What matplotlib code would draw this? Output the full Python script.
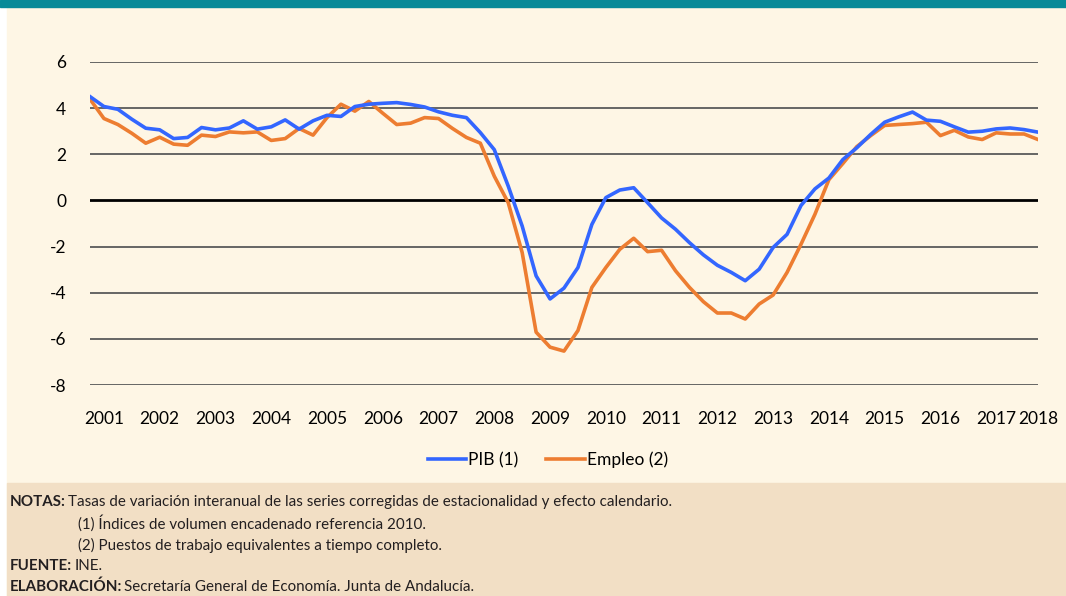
import numpy as np
import matplotlib
matplotlib.use("Agg")
import matplotlib.pyplot as plt
from matplotlib.patches import Rectangle

# quarterly series, 2001Q1 .. 2018Q1
pib = [4.50, 4.07, 3.95, 3.52, 3.13, 3.06, 2.68, 2.73, 3.16, 3.06,
       3.14, 3.45, 3.09, 3.19, 3.49, 3.09, 3.45, 3.69, 3.64, 4.07,
       4.17, 4.21, 4.24, 4.16, 4.05, 3.84, 3.69, 3.59, 2.94, 2.20,
       0.62, -1.11, -3.27, -4.27, -3.80, -2.91, -1.04, 0.12, 0.45, 0.55,
       -0.10, -0.76, -1.25, -1.83, -2.36, -2.81, -3.12, -3.48, -2.98, -2.04,
       -1.47, -0.22, 0.50, 0.97, 1.77, 2.28, 2.86, 3.39, 3.62, 3.83,
       3.48, 3.43, 3.19, 2.96, 3.00, 3.10, 3.14, 3.07, 2.96]
empleo = [4.39, 3.55, 3.29, 2.91, 2.48, 2.74, 2.44, 2.39, 2.83, 2.77,
          2.97, 2.93, 2.97, 2.60, 2.68, 3.12, 2.83, 3.59, 4.17, 3.87,
          4.29, 3.78, 3.29, 3.35, 3.59, 3.55, 3.12, 2.73, 2.48, 1.05,
          -0.10, -2.26, -5.71, -6.36, -6.53, -5.64, -3.77, -2.91, -2.12, -1.64,
          -2.22, -2.16, -3.05, -3.77, -4.39, -4.88, -4.88, -5.14, -4.49, -4.10,
          -3.12, -1.90, -0.60, 0.90, 1.60, 2.33, 2.81, 3.25, 3.29, 3.33,
          3.39, 2.81, 3.04, 2.75, 2.64, 2.93, 2.88, 2.88, 2.64]
years = [str(y) for y in range(2001, 2019)]
yticks = [6, 4, 2, 0, -2, -4, -6, -8]

plt.rcParams["font.family"] = ["Lato", "DejaVu Sans"]

W, H = 1066, 596
cream = "#FEF6E5"
tan = "#F2DFC5"
teal = "#078A98"
blue = "#3366FF"
orange = "#ED7D31"

fig = plt.figure(figsize=(W / 100, H / 100), dpi=100)
fig.patch.set_facecolor("white")
# backgrounds
fig.patches.append(Rectangle((7 / W, 0), 1, 1, transform=fig.transFigure, color=cream, zorder=-3))
fig.patches.append(Rectangle((7 / W, 0), 1, (H - 483) / H, transform=fig.transFigure, color=tan, zorder=-2))
fig.patches.append(Rectangle((0, 1 - 7 / H), 1, 7 / H, transform=fig.transFigure, color=teal, zorder=-1))

ax = fig.add_axes([90 / W, 1 - 385 / H, (1038 - 90) / W, (385 - 62) / H])
ax.set_facecolor("none")
x = np.arange(len(pib))
for v in yticks:
    if v == 0:
        ax.axhline(v, color="black", lw=2.0, zorder=1)
    else:
        ax.axhline(v, color="#5a5a5a", lw=1.3, zorder=1)
ax.plot(x, pib, color=blue, lw=2.6, label="PIB (1)", zorder=3)
ax.plot(x, empleo, color=orange, lw=2.6, label="Empleo (2)", zorder=2)

ax.set_xlim(0, len(pib) - 1)
ax.set_ylim(-8, 6)
ax.set_yticks(yticks)
ax.set_yticklabels([str(v) for v in yticks])
pos = [1 + 4 * i for i in range(len(years) - 1)] + [len(pib) - 1]
ax.set_xticks(pos)
ax.set_xticklabels(years)
ax.tick_params(axis="both", length=0, labelsize=12.5, colors="black")
ax.tick_params(axis="x", pad=19)
ax.tick_params(axis="y", pad=17)
for s in ax.spines.values():
    s.set_visible(False)

fig.legend(loc="center", bbox_to_anchor=(548 / W, 1 - 460 / H), ncol=2,
           frameon=False, fontsize=12.5, handlelength=2.2, handletextpad=0.15,
           columnspacing=1.6)

fs = 10.9
lines = [
    (10, 502, "NOTAS:", "Tasas de variación interanual de las series corregidas de estacionalidad y efecto calendario."),
    (78, 523, "", "(1) Índices de volumen encadenado referencia 2010."),
    (78, 545, "", "(2) Puestos de trabajo equivalentes a tiempo completo."),
    (10, 566, "FUENTE:", "INE."),
    (10, 587, "ELABORACIÓN:", "Secretaría General de Economía. Junta de Andalucía."),
]
fig.canvas.draw()
r = fig.canvas.get_renderer()
for lx, ly, b, t in lines:
    xx = lx / W
    if b:
        tb = fig.text(xx, 1 - ly / H, b, fontsize=fs, fontweight="bold",
                      va="center", ha="left", color="#231F20")
        bb = tb.get_window_extent(renderer=r)
        xx = (bb.x1 + 2) / W
    fig.text(xx, 1 - ly / H, t, fontsize=fs, va="center", ha="left", color="#231F20")

fig.savefig("out.png", dpi=100, facecolor=fig.get_facecolor())
